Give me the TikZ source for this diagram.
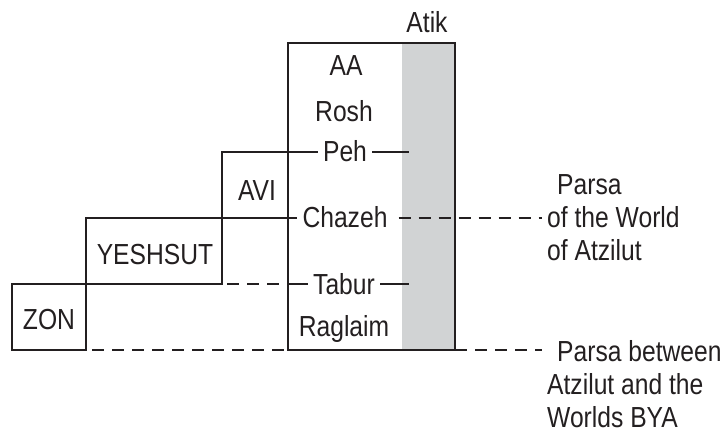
\documentclass[tikz,border=0pt]{standalone}
\usepackage{fontspec}
\setmainfont{Liberation Sans}[FakeStretch=0.85]
\definecolor{ink}{RGB}{35,31,32}
\definecolor{atikgray}{RGB}{209,211,212}
\tikzset{
  ln/.style={line width=2.2pt, draw=ink},
  dsh/.style={ln, dash pattern=on 12pt off 8pt},
  box/.style={ln, rectangle, inner sep=0pt, outer sep=0pt},
  lbl/.style={font=\fontsize{29}{33}\selectfont, text=ink, inner xsep=5pt, inner ysep=0pt, anchor=base},
  side/.style={lbl, align=left, anchor=base west}
}
\begin{document}
\begin{tikzpicture}[x=1pt,y=-1pt]
\useasboundingbox (0,0) rectangle (724,435);
% Atik band
\node[fill=atikgray, minimum width=53pt, minimum height=307pt, inner sep=0pt, outer sep=0pt] (atik) at (428.5,196.5) {};
% boxes
\node[box, minimum width=167pt, minimum height=307pt] (aa) at (371.5,196.5) {};
\node[box, minimum width=66pt, minimum height=66pt] (avi) at (255,185) {};
\node[box, minimum width=136pt, minimum height=66pt] (yeshsut) at (154,251) {};
\node[box, minimum width=74pt, minimum height=66pt] (zon) at (49,317) {};
% labels
\node[lbl] (atikt) at (427,33) {Atik};
\node[lbl] (avit) at (257,201) {AVI};
\node[lbl] (yeshsutt) at (155,265) {YESHSUT};
\node[lbl] (zont) at (49,330) {ZON};
\node[lbl] (aat) at (346,76) {AA};
\node[lbl] (rosh) at (344,122) {Rosh};
\node[lbl] (peh) at (345,162) {Peh};
\node[lbl] (chazeh) at (345,228) {Chazeh};
\node[lbl] (tabur) at (344,295) {Tabur};
\node[lbl] (raglaim) at (344,337) {Raglaim};
\node[side] (parsaA) at (542,261) {\hspace*{10pt}Parsa\\of the World\\of Atzilut};
\node[side] (parsaB) at (542,428) {\hspace*{10pt}Parsa between\\Atzilut and the\\Worlds BYA};
% connectors
\coordinate (pehend) at (409,152);
\coordinate (taburend) at (409,284);
\draw[ln] (avi.north west) -- (avi.north west -| peh.west);
\draw[ln] (peh.east |- pehend) -- (pehend);
\draw[ln] (yeshsut.north west) -- (yeshsut.north west -| chazeh.west);
\draw[dsh, shorten <=6pt] (yeshsut.north west -| chazeh.east) -- (yeshsut.north west -| parsaA.west);
\draw[dsh, dash phase=15pt] (yeshsut.south east) -- (yeshsut.south east -| aa.west);
\draw[ln] (yeshsut.south east -| aa.west) -- (yeshsut.south east -| tabur.west);
\draw[ln] (tabur.east |- taburend) -- (taburend);
\draw[dsh] (zon.south west) -- (aa.south west);
\draw[dsh] (aa.south east) -- (aa.south east -| parsaB.west);
\end{tikzpicture}
\end{document}
